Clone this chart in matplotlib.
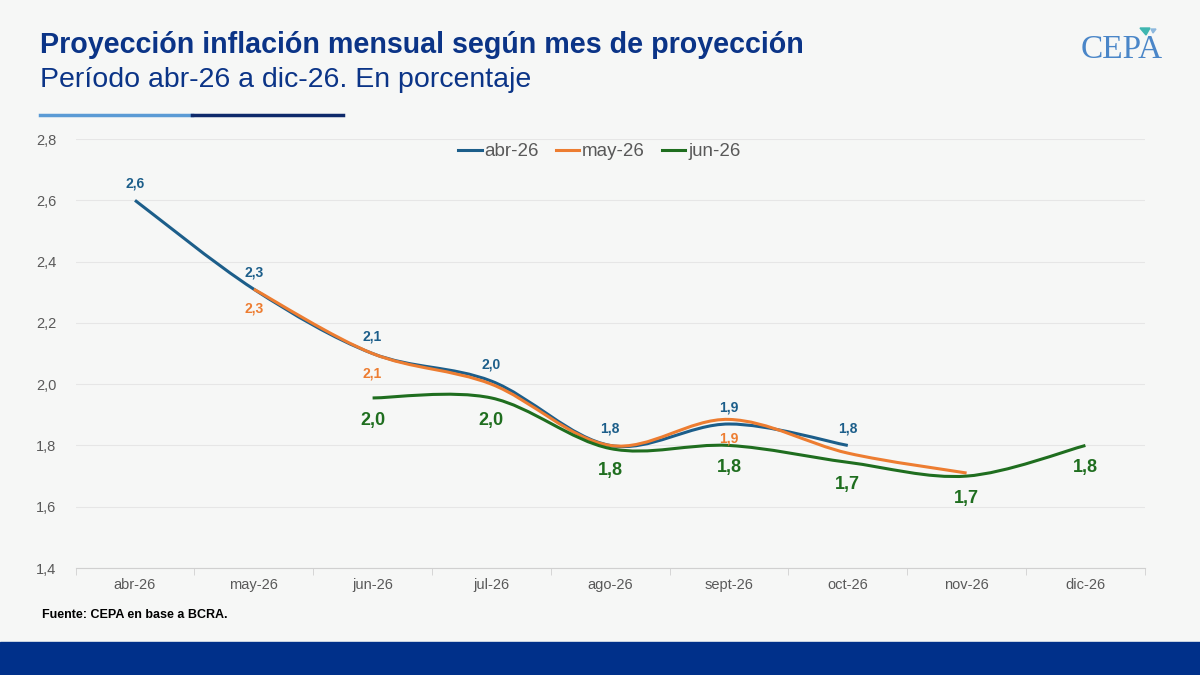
import numpy as np
import matplotlib.pyplot as plt
from matplotlib.path import Path
from matplotlib.patches import PathPatch, Polygon
from matplotlib.lines import Line2D
from matplotlib.ticker import FuncFormatter, FixedLocator

plt.rcParams['font.family'] = ['Liberation Sans', 'DejaVu Sans']

meses = ['abr-26', 'may-26', 'jun-26', 'jul-26', 'ago-26', 'sept-26', 'oct-26', 'nov-26', 'dic-26']
# proyecciones por mes en que se hizo la proyeccion (None = sin dato)
abr26 = [2.6, 2.31, 2.10, 2.01, 1.80, 1.87, 1.80, None, None]
may26 = [None, 2.31, 2.10, 2.00, 1.80, 1.885, 1.775, 1.71, None]
jun26 = [None, None, 1.955, 1.955, 1.79, 1.80, 1.745, 1.70, 1.80]
# puntos que llevan etiqueta
lab_abr = [0, 1, 2, 3, 4, 5, 6]
lab_may = [1, 2, 5]
lab_jun = [2, 3, 4, 5, 6, 7, 8]

c_abr = '#1C5E8A'
c_may = '#ED7D31'
c_jun = '#1F6E1F'
bg = '#F6F7F6'
navy = '#0B3487'


def smooth_path(vals):
    # curva suavizada tipo Excel (Bezier con tangentes Catmull-Rom)
    pts = [(i, v) for i, v in enumerate(vals) if v is not None]
    p = np.array(pts, dtype=float)
    verts = [p[0]]
    codes = [Path.MOVETO]
    n = len(p)
    for i in range(n - 1):
        p0 = p[i - 1] if i > 0 else p[i]
        p1, p2 = p[i], p[i + 1]
        p3 = p[i + 2] if i + 2 < n else p[i + 1]
        verts += [p1 + (p2 - p0) / 6.0, p2 - (p3 - p1) / 6.0, p2]
        codes += [Path.CURVE4] * 3
    return Path(verts, codes)


fig = plt.figure(figsize=(12, 6.75), dpi=100, facecolor=bg)
ax = fig.add_axes([0.063, 0.1585, 0.891, 0.6355])
ax.set_facecolor(bg)

x = np.arange(len(meses))
for vals, col in [(abr26, c_abr), (may26, c_may), (jun26, c_jun)]:
    ax.add_patch(PathPatch(smooth_path(vals), facecolor='none', edgecolor=col, lw=2.2,
                           capstyle='butt', zorder=3))

for i in lab_abr:
    ax.annotate(f'{abr26[i]:.1f}'.replace('.', ','), (x[i], abr26[i]), xytext=(0, 7),
                textcoords='offset points', ha='center', va='bottom', color=c_abr,
                fontsize=10, fontweight='bold')
for i in lab_may:
    ax.annotate(f'{may26[i]:.1f}'.replace('.', ','), (x[i], may26[i]), xytext=(0, -9),
                textcoords='offset points', ha='center', va='top', color=c_may,
                fontsize=10, fontweight='bold')
for i in lab_jun:
    ax.annotate(f'{jun26[i]:.1f}'.replace('.', ','), (x[i], jun26[i]), xytext=(0, -10),
                textcoords='offset points', ha='center', va='top', color=c_jun,
                fontsize=13, fontweight='bold')

ax.set_xlim(-0.5, len(meses) - 0.5)
ax.set_ylim(1.4, 2.8)
ax.set_yticks(np.arange(1.4, 2.81, 0.2))
ax.yaxis.set_major_formatter(FuncFormatter(lambda v, p: f'{v:.1f}'.replace('.', ',')))
ax.set_xticks(x)
ax.set_xticklabels(meses)
ax.xaxis.set_minor_locator(FixedLocator(np.arange(-0.5, len(meses), 1.0)))
ax.tick_params(axis='x', which='major', length=0, pad=7, labelsize=10.5, labelcolor='#595959')
ax.tick_params(axis='x', which='minor', length=5, color='#D0D0D0', direction='out')
ax.tick_params(axis='y', length=0, pad=14, labelsize=10.5, labelcolor='#595959')
ax.grid(axis='y', color='#E6E6E6', lw=0.8)
ax.set_axisbelow(True)
for s in ['top', 'right', 'left']:
    ax.spines[s].set_visible(False)
ax.spines['bottom'].set_color('#D0D0D0')

handles = [Line2D([], [], color=c, lw=2.2) for c in (c_abr, c_may, c_jun)]
ax.legend(handles, ['abr-26', 'may-26', 'jun-26'], loc='center', bbox_to_anchor=(0.49, 0.97),
          ncol=3, frameon=False, fontsize=13.5, labelcolor='#595959', handlelength=1.25,
          handletextpad=0.15, columnspacing=0.9)

# titulos
fig.text(40 / 1200, 1 - 45 / 675, 'Proyección inflación mensual según mes de proyección',
         color=navy, fontsize=20.6, fontweight='bold', va='center', ha='left')
fig.text(40 / 1200, 1 - 80 / 675, 'Período abr-26 a dic-26. En porcentaje',
         color=navy, fontsize=20.5, va='center', ha='left')
fig.add_artist(Line2D([40 / 1200, 192 / 1200], [1 - 115 / 675] * 2, color='#5B9BD5', lw=2.5))
fig.add_artist(Line2D([192 / 1200, 343 / 1200], [1 - 115 / 675] * 2, color='#0E2A6B', lw=2.5))

# logo
fig.text(1122 / 1200, 1 - 50 / 675, 'CEPA', family=['Liberation Serif', 'DejaVu Serif'],
         color='#4A86C8', fontsize=24, ha='center', va='center')
fig.add_artist(Polygon([[1140 / 1200, 1 - 28 / 675], [1150 / 1200, 1 - 28 / 675], [1146 / 1200, 1 - 35 / 675]],
                       closed=True, color='#3FB6B0', transform=fig.transFigure))
fig.add_artist(Polygon([[1151 / 1200, 1 - 29 / 675], [1156 / 1200, 1 - 29 / 675], [1153 / 1200, 1 - 33 / 675]],
                       closed=True, color='#8DB8DE', transform=fig.transFigure))

# fuente
fig.text(42 / 1200, 1 - 615 / 675, 'Fuente: CEPA en base a BCRA.', color='black',
         fontsize=9, fontweight='bold', va='center', ha='left')

# banda inferior
fig.add_artist(plt.Rectangle((0, 0), 1, 33 / 675, color='#00308A', transform=fig.transFigure))

fig.savefig('out.png', dpi=100, facecolor=bg)
